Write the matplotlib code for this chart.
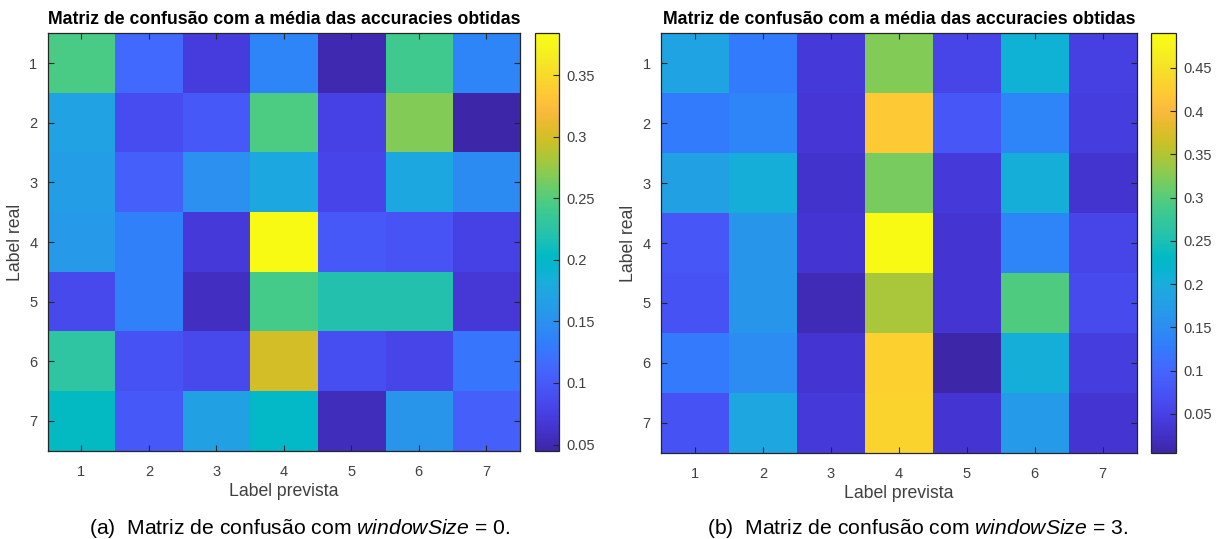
import numpy as np
import matplotlib
matplotlib.use('Agg')
import matplotlib.pyplot as plt
from matplotlib.colors import LinearSegmentedColormap
from matplotlib.ticker import FuncFormatter

# --- Dados ---
labels = [1, 2, 3, 4, 5, 6, 7]

conf_ws0 = [
    [0.245, 0.115, 0.072, 0.140, 0.050, 0.240, 0.140],
    [0.170, 0.088, 0.100, 0.247, 0.078, 0.268, 0.045],
    [0.165, 0.105, 0.150, 0.175, 0.082, 0.175, 0.145],
    [0.160, 0.135, 0.070, 0.384, 0.100, 0.095, 0.078],
    [0.085, 0.135, 0.058, 0.243, 0.220, 0.220, 0.068],
    [0.228, 0.093, 0.085, 0.300, 0.090, 0.080, 0.125],
    [0.205, 0.100, 0.168, 0.200, 0.055, 0.155, 0.105],
]

conf_ws3 = [
    [0.185, 0.127, 0.040, 0.325, 0.055, 0.210, 0.050],
    [0.127, 0.140, 0.036, 0.420, 0.080, 0.140, 0.045],
    [0.180, 0.205, 0.030, 0.318, 0.040, 0.205, 0.033],
    [0.080, 0.165, 0.035, 0.490, 0.035, 0.140, 0.055],
    [0.075, 0.165, 0.015, 0.345, 0.035, 0.295, 0.065],
    [0.125, 0.150, 0.035, 0.430, 0.005, 0.205, 0.045],
    [0.075, 0.190, 0.040, 0.435, 0.035, 0.170, 0.035],
]

cbar_ticks_ws0 = [0.05, 0.1, 0.15, 0.2, 0.25, 0.3, 0.35]
cbar_ticks_ws3 = [0.05, 0.1, 0.15, 0.2, 0.25, 0.3, 0.35, 0.4, 0.45]

titulo = 'Matriz de confusão com a média das accuracies obtidas'
legendas = [r'(a)  Matriz de confusão com $\mathit{windowSize}$ = 0.',
            r'(b)  Matriz de confusão com $\mathit{windowSize}$ = 3.']

# --- Colormap parula (MATLAB) ---
parula_rgb = [
    [0.2422, 0.1504, 0.6603], [0.2578, 0.1818, 0.7511], [0.2706, 0.2147, 0.8364],
    [0.2783, 0.2559, 0.8991], [0.2813, 0.3006, 0.9414], [0.2795, 0.3447, 0.9717],
    [0.2699, 0.3892, 0.9906], [0.2440, 0.4358, 0.9988], [0.1963, 0.4847, 0.9892],
    [0.1786, 0.5289, 0.9682], [0.1687, 0.5703, 0.9359], [0.1460, 0.6091, 0.9079],
    [0.1248, 0.6459, 0.8883], [0.0952, 0.6798, 0.8598], [0.0297, 0.7082, 0.8163],
    [0.0067, 0.7312, 0.7660], [0.0964, 0.7500, 0.7120], [0.1717, 0.7670, 0.6554],
    [0.2161, 0.7843, 0.5923], [0.2906, 0.7973, 0.5188], [0.3909, 0.8029, 0.4354],
    [0.5044, 0.7993, 0.3480], [0.6174, 0.7876, 0.2612], [0.7242, 0.7698, 0.1910],
    [0.8203, 0.7498, 0.1535], [0.9035, 0.7330, 0.1774], [0.9728, 0.7298, 0.2394],
    [0.9970, 0.7659, 0.2199], [0.9892, 0.8136, 0.1885], [0.9676, 0.8639, 0.1643],
    [0.9597, 0.9135, 0.1423], [0.9691, 0.9606, 0.1064], [0.9769, 0.9839, 0.0805],
]
parula = LinearSegmentedColormap.from_list('parula', parula_rgb, N=256)

plt.rcParams['font.family'] = 'Liberation Sans'
plt.rcParams['mathtext.fontset'] = 'custom'
plt.rcParams['mathtext.rm'] = 'Liberation Sans'
plt.rcParams['mathtext.it'] = 'Liberation Sans:italic'

COR_EIXO = '#262626'
COR_TEXTO = '#404040'

fmt_matlab = FuncFormatter(lambda v, p: ('%g' % round(v, 4)))

fig = plt.figure(figsize=(12.2, 5.39), dpi=100)

# posicoes em fração da figura: eixo, colorbar, centro x da legenda
paineis = [
    (conf_ws0, cbar_ticks_ws0, [0.0391, 0.1638, 0.3871, 0.7744], [0.4383, 0.1638, 0.0199, 0.7744], 0.2455),
    (conf_ws3, cbar_ticks_ws3, [0.5418, 0.1601, 0.3899, 0.7781], [0.9434, 0.1601, 0.0205, 0.7781], 0.7517),
]

for i, (mat, cticks, pos_ax, pos_cb, x_leg) in enumerate(paineis):
    ax = fig.add_axes(pos_ax)
    im = ax.imshow(np.array(mat), cmap=parula, aspect='auto', interpolation='nearest',
                   extent=(0.5, 7.5, 7.5, 0.5))
    ax.set_xticks(labels)
    ax.set_yticks(labels)
    ax.tick_params(direction='in', length=4, width=0.8, colors=COR_EIXO,
                   labelcolor=COR_TEXTO, labelsize=10.5, top=True, right=True)
    ax.tick_params(axis='x', pad=10)
    ax.tick_params(axis='y', pad=7.5)
    for s in ax.spines.values():
        s.set_color(COR_EIXO)
        s.set_linewidth(0.9)
    ax.set_xlabel('Label prevista', fontsize=12.7, color=COR_TEXTO, labelpad=3)
    ax.set_ylabel('Label real', fontsize=12.7, color=COR_TEXTO, labelpad=4)
    ax.set_title(titulo, fontsize=12.7, fontweight='bold', color='black', pad=6.7)

    cax = fig.add_axes(pos_cb)
    cb = fig.colorbar(im, cax=cax)
    cb.set_ticks(cticks)
    cb.ax.yaxis.set_major_formatter(fmt_matlab)
    cb.ax.tick_params(direction='in', length=4, width=0.8, colors=COR_EIXO,
                      labelcolor=COR_TEXTO, labelsize=10.5, pad=5)
    cb.outline.set_edgecolor(COR_EIXO)
    cb.outline.set_linewidth(0.9)

    fig.text(x_leg, 0.0093, legendas[i], ha='center', va='baseline', fontsize=15.2, color='black')

fig.savefig('out.png', dpi=100)
